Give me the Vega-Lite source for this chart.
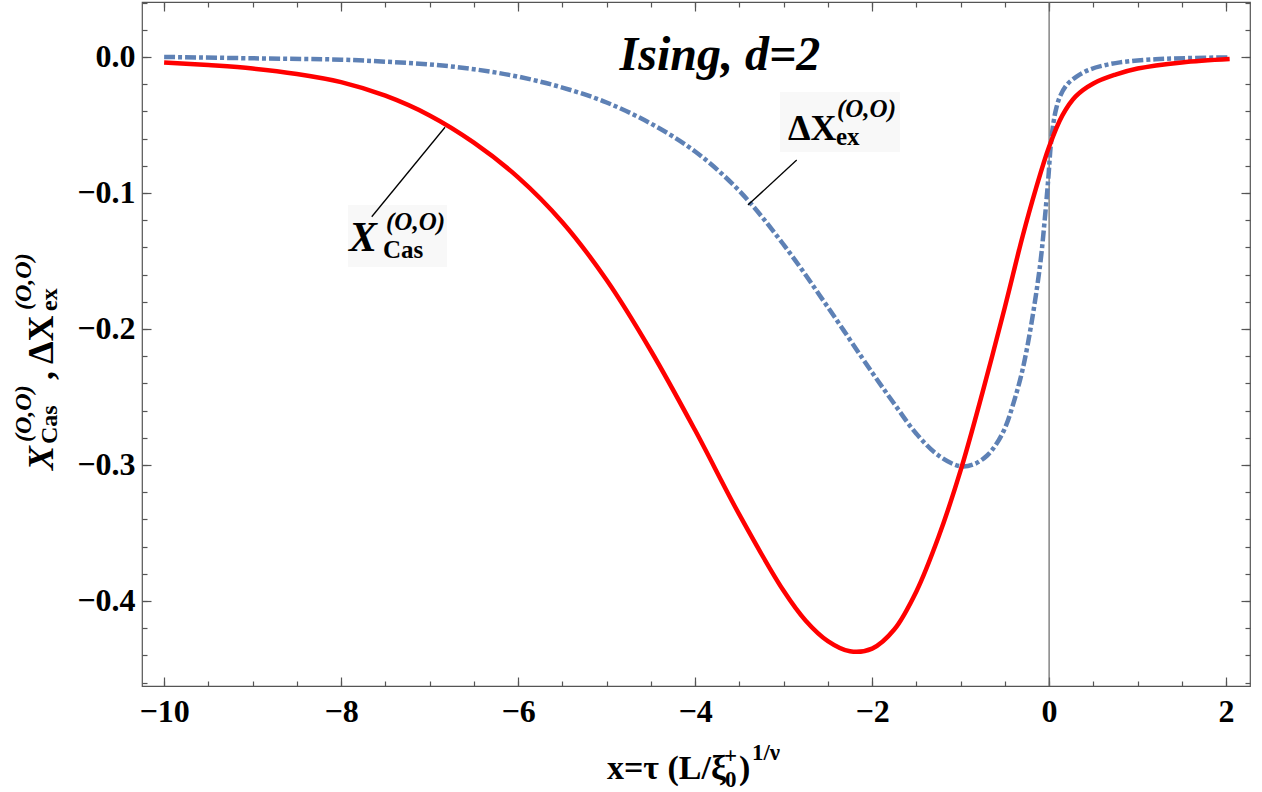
{
  "$schema": "https://vega.github.io/schema/vega-lite/v6.json",
  "width": 1108,
  "height": 684,
  "autosize": {"type": "none"},
  "padding": {"left": 142, "top": 2, "right": 12, "bottom": 106},
  "background": "white",
  "config": {
    "view": {"stroke": "#555555", "strokeWidth": 1.2},
    "axis": {"grid": false, "domain": false, "labelOverlap": false, "labelFlush": false, "tickColor": "#555555", "tickWidth": 1.2}
  },
  "resolve": {"axis": {"x": "independent", "y": "independent"}},
  "datasets": {
    "curves": [
      {"s": "cas", "x": -10, "y": -0.004},
      {"s": "cas", "x": -9.5, "y": -0.006},
      {"s": "cas", "x": -9, "y": -0.0085},
      {"s": "cas", "x": -8.5, "y": -0.0125},
      {"s": "cas", "x": -8, "y": -0.0185},
      {"s": "cas", "x": -7.5, "y": -0.0285},
      {"s": "cas", "x": -7, "y": -0.043},
      {"s": "cas", "x": -6.5, "y": -0.063},
      {"s": "cas", "x": -6, "y": -0.0885},
      {"s": "cas", "x": -5.5, "y": -0.1215},
      {"s": "cas", "x": -5, "y": -0.164},
      {"s": "cas", "x": -4.5, "y": -0.216},
      {"s": "cas", "x": -4, "y": -0.2745},
      {"s": "cas", "x": -3.5, "y": -0.3365},
      {"s": "cas", "x": -3, "y": -0.3925},
      {"s": "cas", "x": -2.75, "y": -0.4145},
      {"s": "cas", "x": -2.5, "y": -0.4295},
      {"s": "cas", "x": -2.25, "y": -0.437},
      {"s": "cas", "x": -2, "y": -0.435},
      {"s": "cas", "x": -1.75, "y": -0.421},
      {"s": "cas", "x": -1.5, "y": -0.393},
      {"s": "cas", "x": -1.25, "y": -0.353},
      {"s": "cas", "x": -1, "y": -0.304},
      {"s": "cas", "x": -0.75, "y": -0.246},
      {"s": "cas", "x": -0.5, "y": -0.184},
      {"s": "cas", "x": -0.3, "y": -0.132},
      {"s": "cas", "x": -0.15, "y": -0.097},
      {"s": "cas", "x": 0, "y": -0.066},
      {"s": "cas", "x": 0.15, "y": -0.043},
      {"s": "cas", "x": 0.3, "y": -0.029},
      {"s": "cas", "x": 0.5, "y": -0.0195},
      {"s": "cas", "x": 0.75, "y": -0.013},
      {"s": "cas", "x": 1, "y": -0.0085},
      {"s": "cas", "x": 1.5, "y": -0.004},
      {"s": "cas", "x": 2.04, "y": -0.0015},
      {"s": "ex", "x": -10, "y": 0.0},
      {"s": "ex", "x": -9, "y": -0.001},
      {"s": "ex", "x": -8, "y": -0.002},
      {"s": "ex", "x": -7.5, "y": -0.0035},
      {"s": "ex", "x": -7, "y": -0.0055},
      {"s": "ex", "x": -6.5, "y": -0.009},
      {"s": "ex", "x": -6, "y": -0.0145},
      {"s": "ex", "x": -5.5, "y": -0.0225},
      {"s": "ex", "x": -5, "y": -0.0335},
      {"s": "ex", "x": -4.5, "y": -0.049},
      {"s": "ex", "x": -4, "y": -0.0695},
      {"s": "ex", "x": -3.5, "y": -0.0985},
      {"s": "ex", "x": -3, "y": -0.138},
      {"s": "ex", "x": -2.5, "y": -0.184},
      {"s": "ex", "x": -2, "y": -0.232},
      {"s": "ex", "x": -1.75, "y": -0.255},
      {"s": "ex", "x": -1.5, "y": -0.277},
      {"s": "ex", "x": -1.25, "y": -0.293},
      {"s": "ex", "x": -1, "y": -0.301},
      {"s": "ex", "x": -0.85, "y": -0.2995},
      {"s": "ex", "x": -0.7, "y": -0.293},
      {"s": "ex", "x": -0.6, "y": -0.285},
      {"s": "ex", "x": -0.5, "y": -0.273},
      {"s": "ex", "x": -0.4, "y": -0.254},
      {"s": "ex", "x": -0.3, "y": -0.23},
      {"s": "ex", "x": -0.2, "y": -0.196},
      {"s": "ex", "x": -0.1, "y": -0.152},
      {"s": "ex", "x": -0.05, "y": -0.12},
      {"s": "ex", "x": -0.01, "y": -0.09},
      {"s": "ex", "x": 0.02, "y": -0.064},
      {"s": "ex", "x": 0.05, "y": -0.048},
      {"s": "ex", "x": 0.08, "y": -0.038},
      {"s": "ex", "x": 0.12, "y": -0.0295},
      {"s": "ex", "x": 0.2, "y": -0.0205},
      {"s": "ex", "x": 0.31, "y": -0.0145},
      {"s": "ex", "x": 0.45, "y": -0.0095},
      {"s": "ex", "x": 0.6, "y": -0.0065},
      {"s": "ex", "x": 0.8, "y": -0.004},
      {"s": "ex", "x": 1.2, "y": -0.0017},
      {"s": "ex", "x": 1.6, "y": -0.0008},
      {"s": "ex", "x": 2.04, "y": -0.0003}
    ],
    "anchors": [
      {"id": "title", "x": -3.719, "y": -0.0096},
      {"id": "cas", "x": -7.911, "y": -0.1427},
      {"id": "ex", "x": -2.9506, "y": -0.0611},
      {"id": "xt", "x": -4.996, "y": -0.5309},
      {"id": "yt", "x": -11.256, "y": -0.3037}
    ],
    "leaders": [
      {"x": -6.826, "y": -0.0517, "x2": -7.654, "y2": -0.1175},
      {"x": -3.403, "y": -0.1089, "x2": -2.852, "y2": -0.0758}
    ],
    "boxes": [
      {"x": -7.922, "x2": -6.803, "y": -0.1089, "y2": -0.1545},
      {"x": -3.041, "x2": -1.685, "y": -0.0258, "y2": -0.0699}
    ],
    "zero": [{"x": 0}]
  },
  "layer": [
    {
      "data": {"name": "boxes"},
      "mark": {"type": "rect", "fill": "#f8f8f8"},
      "encoding": {
        "x": {"field": "x", "type": "quantitative", "scale": {"domain": [-10.25, 2.27], "nice": false, "zero": false},
          "axis": {"orient": "bottom", "values": [-10, -8, -6, -4, -2, 0, 2], "ticks": false, "labels": true, "labelFont": "Liberation Serif", "labelFontWeight": "bold", "labelFontSize": 32, "labelColor": "black", "labelPadding": 10, "title": null}},
        "x2": {"field": "x2"},
        "y": {"field": "y", "type": "quantitative", "scale": {"domain": [-0.4625, 0.0404], "nice": false, "zero": false},
          "axis": {"orient": "left", "values": [0, -0.1, -0.2, -0.3, -0.4], "format": ".1f", "ticks": false, "labels": true, "labelFont": "Liberation Serif", "labelFontWeight": "bold", "labelFontSize": 32, "labelColor": "black", "labelPadding": 7, "title": null}},
        "y2": {"field": "y2"}
      }
    },
    {
      "data": {"name": "zero"},
      "mark": {"type": "rule", "color": "#666666", "strokeWidth": 1.2},
      "encoding": {
        "x": {"field": "x", "type": "quantitative", "scale": {"domain": [-10.25, 2.27], "nice": false, "zero": false},
          "axis": {"orient": "bottom", "values": [-10, -8, -6, -4, -2, 0, 2], "labels": false, "tickSize": -9, "title": null}}
      }
    },
    {
      "data": {"name": "curves"},
      "transform": [{"filter": "datum.s === 'ex'"}],
      "mark": {"type": "line", "color": "#5e81b5", "strokeWidth": 4.5, "strokeDash": [11, 3, 4, 3], "strokeCap": "butt", "interpolate": "catmull-rom"},
      "encoding": {
        "x": {"field": "x", "type": "quantitative", "scale": {"domain": [-10.25, 2.27], "nice": false, "zero": false},
          "axis": {"orient": "bottom", "values": [-10, -9.5, -9, -8.5, -8, -7.5, -7, -6.5, -6, -5.5, -5, -4.5, -4, -3.5, -3, -2.5, -2, -1.5, -1, -0.5, 0, 0.5, 1, 1.5, 2], "labels": false, "tickSize": -5, "title": null}},
        "y": {"field": "y", "type": "quantitative", "scale": {"domain": [-0.4625, 0.0404], "nice": false, "zero": false},
          "axis": {"orient": "left", "values": [0, -0.1, -0.2, -0.3, -0.4], "labels": false, "tickSize": -9, "title": null}}
      }
    },
    {
      "data": {"name": "curves"},
      "transform": [{"filter": "datum.s === 'cas'"}],
      "mark": {"type": "line", "color": "#ff0000", "strokeWidth": 4.5, "interpolate": "catmull-rom"},
      "encoding": {
        "x": {"field": "x", "type": "quantitative", "scale": {"domain": [-10.25, 2.27], "nice": false, "zero": false},
          "axis": {"orient": "top", "values": [-10, -8, -6, -4, -2, 0, 2], "labels": false, "tickSize": -9, "title": null}},
        "y": {"field": "y", "type": "quantitative", "scale": {"domain": [-0.4625, 0.0404], "nice": false, "zero": false},
          "axis": {"orient": "left", "values": [0.04, 0.02, 0, -0.02, -0.04, -0.06, -0.08, -0.1, -0.12, -0.14, -0.16, -0.18, -0.2, -0.22, -0.24, -0.26, -0.28, -0.3, -0.32, -0.34, -0.36, -0.38, -0.4, -0.42, -0.44, -0.46], "labels": false, "tickSize": -5, "title": null}}
      }
    },
    {
      "data": {"name": "leaders"},
      "mark": {"type": "rule", "color": "black", "strokeWidth": 1.3},
      "encoding": {
        "x": {"field": "x", "type": "quantitative", "scale": {"domain": [-10.25, 2.27], "nice": false, "zero": false},
          "axis": {"orient": "top", "values": [-10, -9.5, -9, -8.5, -8, -7.5, -7, -6.5, -6, -5.5, -5, -4.5, -4, -3.5, -3, -2.5, -2, -1.5, -1, -0.5, 0, 0.5, 1, 1.5, 2], "labels": false, "tickSize": -5, "title": null}},
        "x2": {"field": "x2"},
        "y": {"field": "y", "type": "quantitative", "scale": {"domain": [-0.4625, 0.0404], "nice": false, "zero": false},
          "axis": {"orient": "right", "values": [0, -0.1, -0.2, -0.3, -0.4], "labels": false, "tickSize": -9, "title": null}},
        "y2": {"field": "y2"}
      }
    },
    {
      "data": {"name": "anchors"},
      "transform": [{"filter": "datum.id === 'title'"}],
      "mark": {"type": "text", "text": "Ising, d=2", "font": "Liberation Serif", "fontSize": 48, "fontWeight": "bold", "fontStyle": "italic", "align": "center", "baseline": "alphabetic", "color": "black"},
      "encoding": {
        "x": {"field": "x", "type": "quantitative", "scale": {"domain": [-10.25, 2.27], "nice": false, "zero": false}, "axis": null},
        "y": {"field": "y", "type": "quantitative", "scale": {"domain": [-0.4625, 0.0404], "nice": false, "zero": false},
          "axis": {"orient": "right", "values": [0.04, 0.02, 0, -0.02, -0.04, -0.06, -0.08, -0.1, -0.12, -0.14, -0.16, -0.18, -0.2, -0.22, -0.24, -0.26, -0.28, -0.3, -0.32, -0.34, -0.36, -0.38, -0.4, -0.42, -0.44, -0.46], "labels": false, "tickSize": -5, "title": null}}
      }
    },
    {
      "data": {"name": "anchors"},
      "transform": [{"filter": "datum.id === 'cas'"}],
      "mark": {"type": "text", "text": "X", "font": "Liberation Serif", "fontSize": 42, "fontWeight": "bold", "fontStyle": "italic", "align": "left", "baseline": "alphabetic", "color": "black"},
      "encoding": {
        "x": {"field": "x", "type": "quantitative", "scale": {"domain": [-10.25, 2.27], "nice": false, "zero": false}, "axis": null},
        "y": {"field": "y", "type": "quantitative", "scale": {"domain": [-0.4625, 0.0404], "nice": false, "zero": false}, "axis": null}
      }
    },
    {
      "data": {"name": "anchors"},
      "transform": [{"filter": "datum.id === 'cas'"}],
      "mark": {"type": "text", "text": "(O,O)", "font": "Liberation Serif", "fontSize": 25, "fontWeight": "bold", "fontStyle": "italic", "align": "left", "baseline": "alphabetic", "dx": 37, "dy": -21, "color": "black"},
      "encoding": {
        "x": {"field": "x", "type": "quantitative", "scale": {"domain": [-10.25, 2.27], "nice": false, "zero": false}, "axis": null},
        "y": {"field": "y", "type": "quantitative", "scale": {"domain": [-0.4625, 0.0404], "nice": false, "zero": false}, "axis": null}
      }
    },
    {
      "data": {"name": "anchors"},
      "transform": [{"filter": "datum.id === 'cas'"}],
      "mark": {"type": "text", "text": "Cas", "font": "Liberation Serif", "fontSize": 25, "fontWeight": "bold", "align": "left", "baseline": "alphabetic", "dx": 34, "dy": 7, "color": "black"},
      "encoding": {
        "x": {"field": "x", "type": "quantitative", "scale": {"domain": [-10.25, 2.27], "nice": false, "zero": false}, "axis": null},
        "y": {"field": "y", "type": "quantitative", "scale": {"domain": [-0.4625, 0.0404], "nice": false, "zero": false}, "axis": null}
      }
    },
    {
      "data": {"name": "anchors"},
      "transform": [{"filter": "datum.id === 'ex'"}],
      "mark": {"type": "text", "text": "ΔX", "font": "Liberation Serif", "fontSize": 36, "fontWeight": "bold", "align": "left", "baseline": "alphabetic", "color": "black"},
      "encoding": {
        "x": {"field": "x", "type": "quantitative", "scale": {"domain": [-10.25, 2.27], "nice": false, "zero": false}, "axis": null},
        "y": {"field": "y", "type": "quantitative", "scale": {"domain": [-0.4625, 0.0404], "nice": false, "zero": false}, "axis": null}
      }
    },
    {
      "data": {"name": "anchors"},
      "transform": [{"filter": "datum.id === 'ex'"}],
      "mark": {"type": "text", "text": "(O,O)", "font": "Liberation Serif", "fontSize": 25, "fontWeight": "bold", "fontStyle": "italic", "align": "left", "baseline": "alphabetic", "dx": 49, "dy": -23, "color": "black"},
      "encoding": {
        "x": {"field": "x", "type": "quantitative", "scale": {"domain": [-10.25, 2.27], "nice": false, "zero": false}, "axis": null},
        "y": {"field": "y", "type": "quantitative", "scale": {"domain": [-0.4625, 0.0404], "nice": false, "zero": false}, "axis": null}
      }
    },
    {
      "data": {"name": "anchors"},
      "transform": [{"filter": "datum.id === 'ex'"}],
      "mark": {"type": "text", "text": "ex", "font": "Liberation Serif", "fontSize": 25, "fontWeight": "bold", "align": "left", "baseline": "alphabetic", "dx": 48, "dy": 5, "color": "black"},
      "encoding": {
        "x": {"field": "x", "type": "quantitative", "scale": {"domain": [-10.25, 2.27], "nice": false, "zero": false}, "axis": null},
        "y": {"field": "y", "type": "quantitative", "scale": {"domain": [-0.4625, 0.0404], "nice": false, "zero": false}, "axis": null}
      }
    },
    {
      "data": {"name": "anchors"},
      "transform": [{"filter": "datum.id === 'xt'"}],
      "mark": {"type": "text", "text": "x=τ (L/ξ", "font": "Liberation Serif", "fontSize": 34, "fontWeight": "bold", "align": "left", "baseline": "alphabetic", "color": "black"},
      "encoding": {
        "x": {"field": "x", "type": "quantitative", "scale": {"domain": [-10.25, 2.27], "nice": false, "zero": false}, "axis": null},
        "y": {"field": "y", "type": "quantitative", "scale": {"domain": [-0.4625, 0.0404], "nice": false, "zero": false}, "axis": null}
      }
    },
    {
      "data": {"name": "anchors"},
      "transform": [{"filter": "datum.id === 'xt'"}],
      "mark": {"type": "text", "text": "0", "font": "Liberation Serif", "fontSize": 23, "fontWeight": "bold", "align": "left", "baseline": "alphabetic", "dx": 118, "dy": 8, "color": "black"},
      "encoding": {
        "x": {"field": "x", "type": "quantitative", "scale": {"domain": [-10.25, 2.27], "nice": false, "zero": false}, "axis": null},
        "y": {"field": "y", "type": "quantitative", "scale": {"domain": [-0.4625, 0.0404], "nice": false, "zero": false}, "axis": null}
      }
    },
    {
      "data": {"name": "anchors"},
      "transform": [{"filter": "datum.id === 'xt'"}],
      "mark": {"type": "text", "text": "+", "font": "Liberation Serif", "fontSize": 23, "fontWeight": "bold", "align": "left", "baseline": "alphabetic", "dx": 117, "dy": -16, "color": "black"},
      "encoding": {
        "x": {"field": "x", "type": "quantitative", "scale": {"domain": [-10.25, 2.27], "nice": false, "zero": false}, "axis": null},
        "y": {"field": "y", "type": "quantitative", "scale": {"domain": [-0.4625, 0.0404], "nice": false, "zero": false}, "axis": null}
      }
    },
    {
      "data": {"name": "anchors"},
      "transform": [{"filter": "datum.id === 'xt'"}],
      "mark": {"type": "text", "text": ")", "font": "Liberation Serif", "fontSize": 34, "fontWeight": "bold", "align": "left", "baseline": "alphabetic", "dx": 132, "color": "black"},
      "encoding": {
        "x": {"field": "x", "type": "quantitative", "scale": {"domain": [-10.25, 2.27], "nice": false, "zero": false}, "axis": null},
        "y": {"field": "y", "type": "quantitative", "scale": {"domain": [-0.4625, 0.0404], "nice": false, "zero": false}, "axis": null}
      }
    },
    {
      "data": {"name": "anchors"},
      "transform": [{"filter": "datum.id === 'xt'"}],
      "mark": {"type": "text", "text": "1/ν", "font": "Liberation Serif", "fontSize": 23, "fontWeight": "bold", "align": "left", "baseline": "alphabetic", "dx": 145, "dy": -19, "color": "black"},
      "encoding": {
        "x": {"field": "x", "type": "quantitative", "scale": {"domain": [-10.25, 2.27], "nice": false, "zero": false}, "axis": null},
        "y": {"field": "y", "type": "quantitative", "scale": {"domain": [-0.4625, 0.0404], "nice": false, "zero": false}, "axis": null}
      }
    },
    {
      "data": {"name": "anchors"},
      "transform": [{"filter": "datum.id === 'yt'"}],
      "mark": {"type": "text", "text": "X", "font": "Liberation Serif", "fontSize": 36, "fontWeight": "bold", "fontStyle": "italic", "align": "left", "baseline": "alphabetic", "angle": 270, "color": "black"},
      "encoding": {
        "x": {"field": "x", "type": "quantitative", "scale": {"domain": [-10.25, 2.27], "nice": false, "zero": false}, "axis": null},
        "y": {"field": "y", "type": "quantitative", "scale": {"domain": [-0.4625, 0.0404], "nice": false, "zero": false}, "axis": null}
      }
    },
    {
      "data": {"name": "anchors"},
      "transform": [{"filter": "datum.id === 'yt'"}],
      "mark": {"type": "text", "text": "(O,O)", "font": "Liberation Serif", "fontSize": 24, "fontWeight": "bold", "fontStyle": "italic", "align": "left", "baseline": "alphabetic", "angle": 270, "dx": 28, "dy": -22, "color": "black"},
      "encoding": {
        "x": {"field": "x", "type": "quantitative", "scale": {"domain": [-10.25, 2.27], "nice": false, "zero": false}, "axis": null},
        "y": {"field": "y", "type": "quantitative", "scale": {"domain": [-0.4625, 0.0404], "nice": false, "zero": false}, "axis": null}
      }
    },
    {
      "data": {"name": "anchors"},
      "transform": [{"filter": "datum.id === 'yt'"}],
      "mark": {"type": "text", "text": "Cas", "font": "Liberation Serif", "fontSize": 24, "fontWeight": "bold", "align": "left", "baseline": "alphabetic", "angle": 270, "dx": 26, "dy": 4, "color": "black"},
      "encoding": {
        "x": {"field": "x", "type": "quantitative", "scale": {"domain": [-10.25, 2.27], "nice": false, "zero": false}, "axis": null},
        "y": {"field": "y", "type": "quantitative", "scale": {"domain": [-0.4625, 0.0404], "nice": false, "zero": false}, "axis": null}
      }
    },
    {
      "data": {"name": "anchors"},
      "transform": [{"filter": "datum.id === 'yt'"}],
      "mark": {"type": "text", "text": ", ΔX", "font": "Liberation Serif", "fontSize": 36, "fontWeight": "bold", "align": "left", "baseline": "alphabetic", "angle": 270, "dx": 90, "color": "black"},
      "encoding": {
        "x": {"field": "x", "type": "quantitative", "scale": {"domain": [-10.25, 2.27], "nice": false, "zero": false}, "axis": null},
        "y": {"field": "y", "type": "quantitative", "scale": {"domain": [-0.4625, 0.0404], "nice": false, "zero": false}, "axis": null}
      }
    },
    {
      "data": {"name": "anchors"},
      "transform": [{"filter": "datum.id === 'yt'"}],
      "mark": {"type": "text", "text": "(O,O)", "font": "Liberation Serif", "fontSize": 24, "fontWeight": "bold", "fontStyle": "italic", "align": "left", "baseline": "alphabetic", "angle": 270, "dx": 160, "dy": -22, "color": "black"},
      "encoding": {
        "x": {"field": "x", "type": "quantitative", "scale": {"domain": [-10.25, 2.27], "nice": false, "zero": false}, "axis": null},
        "y": {"field": "y", "type": "quantitative", "scale": {"domain": [-0.4625, 0.0404], "nice": false, "zero": false}, "axis": null}
      }
    },
    {
      "data": {"name": "anchors"},
      "transform": [{"filter": "datum.id === 'yt'"}],
      "mark": {"type": "text", "text": "ex", "font": "Liberation Serif", "fontSize": 24, "fontWeight": "bold", "align": "left", "baseline": "alphabetic", "angle": 270, "dx": 159, "dy": 4, "color": "black"},
      "encoding": {
        "x": {"field": "x", "type": "quantitative", "scale": {"domain": [-10.25, 2.27], "nice": false, "zero": false}, "axis": null},
        "y": {"field": "y", "type": "quantitative", "scale": {"domain": [-0.4625, 0.0404], "nice": false, "zero": false}, "axis": null}
      }
    }
  ]
}
